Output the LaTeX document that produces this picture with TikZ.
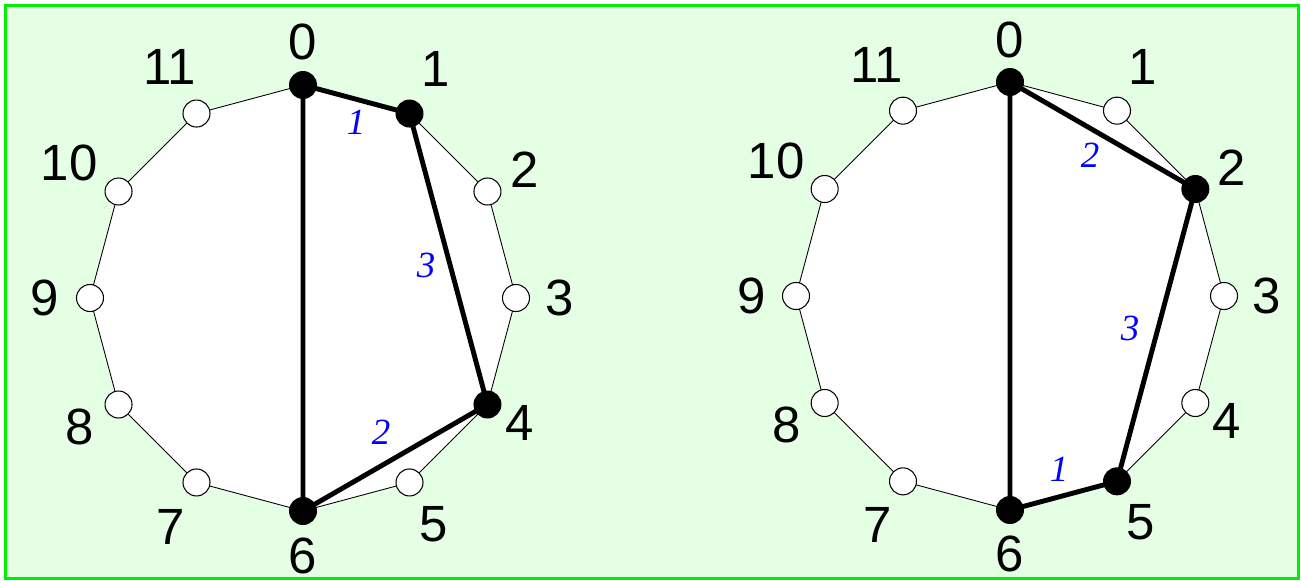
\documentclass[tikz,border=0pt]{standalone}
\usepackage{fontspec}
\setmainfont{Liberation Sans}
\newfontfamily\weightfont{Liberation Serif}
\usetikzlibrary{calc}
\definecolor{panelgreen}{HTML}{E5FFE5}
\definecolor{framegreen}{HTML}{00EE00}
\definecolor{weightblue}{HTML}{0000FF}

\begin{document}
\begin{tikzpicture}[
    x=0.02cm, y=-0.02cm,
    every node/.style={font=\fontsize{29}{31}\selectfont},
    ring/.style={draw=black, line width=0.5pt, fill=white},
    chord/.style={draw=black, line width=2.8pt, line join=round},
    openv/.style={circle, draw=black, fill=white, line width=0.6pt, minimum size=0.54cm, inner sep=0pt},
    usedv/.style={circle, fill=black, minimum size=0.56cm, inner sep=0pt},
    num/.style={inner sep=0pt},
    weight/.style={text=weightblue, font=\fontsize{21}{23}\selectfont\weightfont\itshape, inner sep=0pt}
]
    \useasboundingbox (0,0) rectangle (1301,581);
    \fill[panelgreen] (5.5,5.5) rectangle (1298,578);
    \draw[framegreen, line width=1.7pt] (5.5,5.5) rectangle (1298,578);

    % Left polygon: path 0-1-4-6
    \foreach \k in {0,...,11}
        \coordinate (L\k) at ({303+213*cos(90-30*\k)},{298-213*sin(90-30*\k)});
    \draw[ring] (L0) \foreach \k in {1,...,11}{ -- (L\k)} -- cycle;
    \draw[chord] (L0) -- (L1) -- (L4) -- (L6) -- cycle;
    \foreach \k in {2,3,5,7,8,9,10,11}
        \node[openv] (l\k) at (L\k) {};
    \foreach \k in {0,1,4,6}
        \node[usedv] (l\k) at (L\k) {};
    \foreach \k/\r in {0/256,1/265,2/256,3/257,4/250,5/261,6/258,7/264,8/258,9/258,10/270,11/267}
        \node[num] (lnum\k) at ({303+\r*cos(90-30*\k)},{298-\r*sin(90-30*\k)}) {\k};
    \node[weight] (lw01) at (356,122) {1};
    \node[weight] (lw14) at (426,265) {3};
    \node[weight] (lw46) at (381,432) {2};

    % Right polygon: path 0-2-5-6
    \foreach \k in {0,...,11}
        \coordinate (R\k) at ({1010+214*cos(90-30*\k)},{296-214*sin(90-30*\k)});
    \draw[ring] (R0) \foreach \k in {1,...,11}{ -- (R\k)} -- cycle;
    \draw[chord] (R0) -- (R2) -- (R5) -- (R6) -- cycle;
    \foreach \k in {1,3,4,7,8,9,10,11}
        \node[openv] (r\k) at (R\k) {};
    \foreach \k in {0,2,5,6}
        \node[usedv] (r\k) at (R\k) {};
    \foreach \k/\r in {0/256,1/265,2/256,3/257,4/250,5/261,6/258,7/264,8/258,9/258,10/270,11/267}
        \node[num] (rnum\k) at ({1010+\r*cos(90-30*\k)},{296-\r*sin(90-30*\k)}) {\k};
    \node[weight] (rw02) at (1090,155) {2};
    \node[weight] (rw25) at (1130,328) {3};
    \node[weight] (rw56) at (1059,469) {1};
\end{tikzpicture}
\end{document}
